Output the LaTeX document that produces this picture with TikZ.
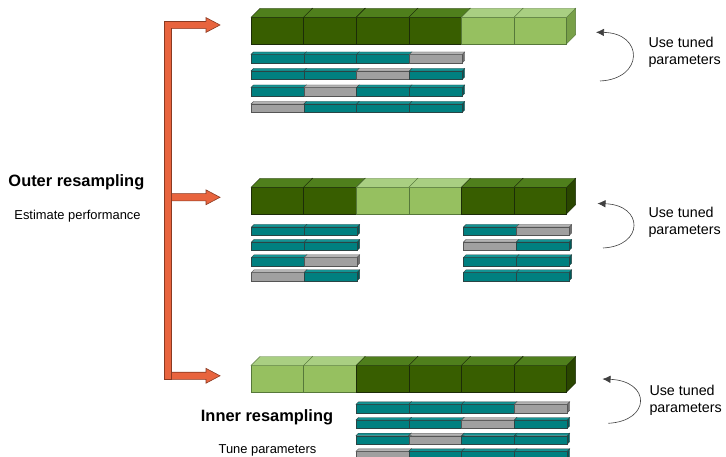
\documentclass[tikz,border=0pt]{standalone}
\usepackage{fontspec}
\setmainfont{Liberation Sans}
\usetikzlibrary{arrows.meta}

% block colours: F front, T top, S side, E edge
\definecolor{DF}{HTML}{385E00}
\definecolor{DT}{HTML}{4F7F1C}
\definecolor{DS}{HTML}{2A4600}
\definecolor{DE}{HTML}{1C2C08}
\definecolor{LF}{HTML}{96C060}
\definecolor{LT}{HTML}{A9CF82}
\definecolor{LS}{HTML}{78A048}
\definecolor{LE}{HTML}{56783A}
\definecolor{TF}{HTML}{008080}
\definecolor{TT}{HTML}{139494}
\definecolor{TS}{HTML}{005A5A}
\definecolor{TE}{HTML}{2A4444}
\definecolor{GF}{HTML}{A0A0A0}
\definecolor{GT}{HTML}{B4B4B4}
\definecolor{GS}{HTML}{707070}
\definecolor{GE}{HTML}{555555}
\definecolor{orangefill}{HTML}{E8643E}
\definecolor{orangeedge}{HTML}{8A3A22}

% a row of cubes: x, y (front top), cell width, height, depth, colour list
\newcommand\blockrow[6]{%
  \foreach \col [count=\i from 0] in {#6} {
    \filldraw[fill=\col S, draw=\col E]
      ({#1+(\i+1)*#3},#2) -- ++(#5,-#5) -- ++(0,#4) -- ++(-#5,#5) -- cycle;
    \filldraw[fill=\col F, draw=\col E] ({#1+\i*#3},#2) rectangle ++(#3,#4);
    \filldraw[fill=\col T, draw=\col E]
      ({#1+\i*#3},#2) -- ++(#5,-#5) -- ++(#3,0) -- ++(-#5,#5) -- cycle;
  }%
}
\newcommand\bigrow[2]{\blockrow{251}{#1}{52.6}{26.5}{9}{#2}}
\newcommand\thinrow[3]{\blockrow{#1}{#2}{52.8}{8.5}{2.5}{#3}}

% fat orange arrow pointing right, centred at height #1
\newcommand\fatarrow[1]{%
  \filldraw[orangearrow] (164.3,#1-3.6) -- (206,#1-3.6) -- (206,#1-7.4) -- (220,#1)
    -- (206,#1+7.4) -- (206,#1+3.6) -- (164.3,#1+3.6) -- cycle;
}

\tikzset{
  orangearrow/.style={fill=orangefill, draw=orangeedge, line width=0.6bp},
  loop/.style={draw=black!75, line width=0.6bp, -{Latex[length=8bp,width=7.5bp]}},
  usetext/.style={font=\fontsize{14.3bp}{17bp}\selectfont, inner sep=0pt, anchor=base west},
  headtext/.style={font=\fontsize{16.4bp}{19bp}\selectfont\bfseries, inner sep=0pt},
  subtext/.style={font=\fontsize{12.9bp}{15bp}\selectfont, inner sep=0pt, anchor=base},
}

\begin{document}
\begin{tikzpicture}[x=1bp, y=-1bp, line join=miter]
\clip (0,0) rectangle (726,457);
\fill[white] (0,0) rectangle (726,457);

% ---- outer resampling bracket ----
\fatarrow{25}
\fatarrow{197.3}
\fatarrow{375.8}
\filldraw[orangearrow] (164.3,21.4) rectangle (171,379.4);
\fill[orangefill] (164.9,22) rectangle (171.5,28.4);
\draw[orangeedge, line width=0.6bp] (164.3,21.4) -- (206,21.4);

\node[headtext, anchor=base west] (outer) at (8.3,186.7) {Outer resampling};
\node[subtext] (estimate) at (77.5,220) {Estimate performance};

% ---- first split ----
\bigrow{17.3}{D,D,D,D,L,L}
\thinrow{251}{54.5}{T,T,T,G}
\thinrow{251}{71}{T,T,G,T}
\thinrow{251}{87.5}{T,G,T,T}
\thinrow{251}{104}{G,T,T,T}

% ---- second split ----
\bigrow{187.3}{D,D,L,L,D,D}
\thinrow{251.5}{227}{T,T}
\thinrow{251.5}{242}{T,T}
\thinrow{251.5}{257.3}{T,G}
\thinrow{251.5}{272.3}{G,T}
\thinrow{463.5}{227}{T,G}
\thinrow{463.5}{242}{G,T}
\thinrow{463.5}{257.3}{T,T}
\thinrow{463.5}{272.3}{T,T}

% ---- third split ----
\bigrow{365.5}{L,L,D,D,D,D}
\thinrow{356}{404.3}{T,T,T,G}
\thinrow{356}{420}{T,T,G,T}
\thinrow{356}{435.7}{T,G,T,T}
\thinrow{356}{451.3}{G,T,T,T}

\node[headtext, anchor=base] (inner) at (267,421) {Inner resampling};
\node[subtext] (tune) at (267.5,453) {Tune parameters};

% ---- loops back to the tuned parameters ----
\coordinate (l1s) at (600,81);
\coordinate (l1e) at (596,32.3);
\coordinate (l2s) at (603,248);
\coordinate (l2e) at (597.5,203.5);
\coordinate (l3s) at (608.3,423.3);
\coordinate (l3e) at (602.5,379);
\draw[loop] (l1s) .. controls (644,79) and (644,33) .. (l1e);
\draw[loop] (l2s) .. controls (644,246) and (644,205) .. (l2e);
\draw[loop] (l3s) .. controls (651,421) and (651,381) .. (l3e);

\node[usetext] (use1) at (648.3,48) {Use tuned};
\node[usetext] (par1) at (648.3,65) {parameters};
\node[usetext] (use2) at (648.3,218) {Use tuned};
\node[usetext] (par2) at (648.3,235) {parameters};
\node[usetext] (use3) at (649.3,395.7) {Use tuned};
\node[usetext] (par3) at (649.3,412.7) {parameters};
\end{tikzpicture}
\end{document}
